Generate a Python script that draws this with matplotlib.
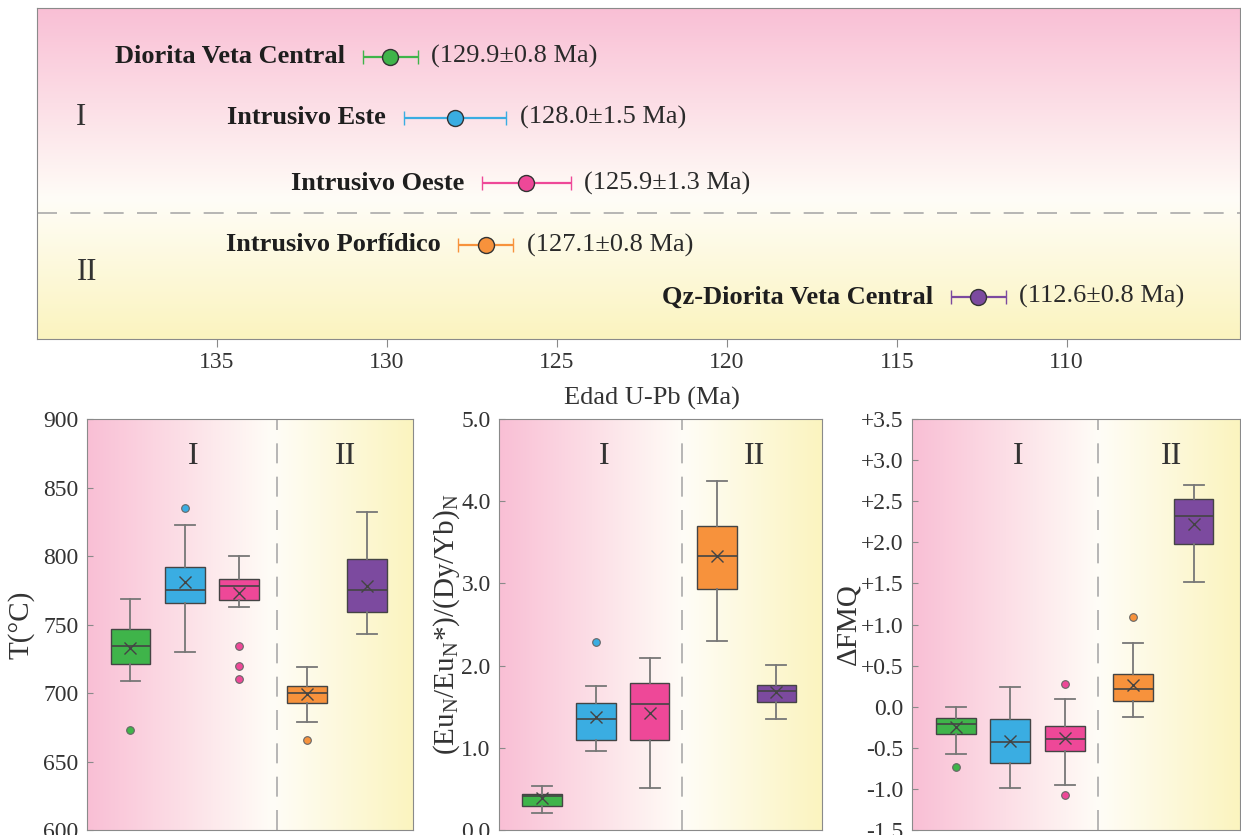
import matplotlib.pyplot as plt
import numpy as np
from matplotlib.colors import LinearSegmentedColormap
from matplotlib.ticker import FixedLocator, FuncFormatter

plt.rcParams['font.family'] = ['Liberation Serif', 'DejaVu Serif']
plt.rcParams['mathtext.fontset'] = 'custom'
plt.rcParams['mathtext.rm'] = 'Liberation Serif'

# U-Pb ages (Ma) and 2-sigma errors
units = ['Diorita Veta Central', 'Intrusivo Este', 'Intrusivo Oeste',
         'Intrusivo Porfídico', 'Qz-Diorita Veta Central']
ages = [129.9, 128.0, 125.9, 127.1, 112.6]
errors = [0.8, 1.5, 1.3, 0.8, 0.8]
colors = ['#3fb44a', '#3aade2', '#ee4898', '#f7923c', '#7c4a9f']

# box-plot statistics per unit: whislo, q1, med, mean, q3, whishi, outliers
temp_stats = [
    (709, 721, 734, 733, 747, 769, [673]),
    (730, 766, 775, 781, 792, 823, [835]),
    (763, 768, 778, 773, 783, 800, [734, 720, 710]),
    (679, 693, 700, 699, 705, 719, [666]),
    (743, 759, 775, 778, 798, 832, []),
]
eu_stats = [
    (0.21, 0.29, 0.41, 0.39, 0.44, 0.54, []),
    (0.96, 1.09, 1.345, 1.38, 1.54, 1.75, [2.29]),
    (0.51, 1.10, 1.53, 1.42, 1.785, 2.09, []),
    (2.30, 2.93, 3.33, 3.33, 3.70, 4.25, []),
    (1.35, 1.56, 1.69, 1.68, 1.76, 2.01, []),
]
fmq_stats = [
    (-0.57, -0.33, -0.21, -0.25, -0.14, 0.0, [-0.73]),
    (-0.99, -0.69, -0.43, -0.42, -0.15, 0.24, []),
    (-0.95, -0.54, -0.39, -0.38, -0.24, 0.09, [0.28, -1.07]),
    (-0.12, 0.07, 0.22, 0.26, 0.40, 0.78, [1.09]),
    (1.52, 1.98, 2.32, 2.23, 2.53, 2.70, []),
]

pink = '#f9bfd5'
white = '#fffdf7'
yellow = '#fbf4bf'
spine_c = '#8a8a8a'
text_c = '#2a2a2a'

fig = plt.figure(figsize=(12.41, 8.35), dpi=100)

# ---- top panel: ages ----
ax = fig.add_axes([0.0298, 0.594, 0.9694, 0.3966])
vgrad = LinearSegmentedColormap.from_list('v', [(0, yellow), (0.42, white), (1, pink)])
ax.imshow(np.linspace(0, 1, 256).reshape(-1, 1), cmap=vgrad, origin='lower',
          extent=[0, 1, 0, 1], transform=ax.transAxes, aspect='auto', zorder=0)
ax.set_xlim(140.3, 104.9)
ax.set_ylim(0, 1)
row_y = [0.852, 0.668, 0.471, 0.284, 0.127]
for name, age, err, c, y in zip(units, ages, errors, colors, row_y):
    ax.errorbar(age, y, xerr=err, fmt='o', color=c, ecolor=c, elinewidth=1.6,
                capsize=5, capthick=1.6, markersize=11.5, markerfacecolor=c,
                markeredgecolor='#333333', markeredgewidth=1.0, zorder=3)
    ax.annotate(name, (age + err, y), xytext=(-13, 0), textcoords='offset points',
                ha='right', va='center', fontsize=19, fontweight='bold', color='#1e1e1e')
    ax.annotate(f'({age:.1f}±{err:.1f} Ma)', (age - err, y), xytext=(10, 0),
                textcoords='offset points', ha='left', va='center', fontsize=19,
                color=text_c)
ax.axhline(0.381, color='#aaaaaa', lw=1.2, dashes=(12, 8), zorder=1)
ax.text(0.037, 0.668, 'I', transform=ax.transAxes, ha='center', va='center', fontsize=22,
        color='#333333')
ax.text(0.042, 0.2, 'II', transform=ax.transAxes, ha='center', va='center', fontsize=22,
        color='#333333')
ax.set_xticks([135, 130, 125, 120, 115, 110])
ax.set_yticks([])
ax.tick_params(axis='x', direction='out', length=6, color=spine_c, labelsize=17,
               labelcolor='#333333', pad=3)
ax.set_xlabel('Edad U-Pb (Ma)', fontsize=19, color='#333333')
ax.xaxis.set_label_coords(0.511, -0.145)
for s in ax.spines.values():
    s.set_color(spine_c)

# ---- bottom panels: box plots ----
hgrad = LinearSegmentedColormap.from_list('h', [(0, pink), (0.57, white), (1, yellow)])
positions = [1, 2, 3, 4.25, 5.35]


def box_panel(rect, stats, ylim, ticks, fmt, ylabel, divider, label_x):
    bx = fig.add_axes(rect)
    bx.imshow(np.linspace(0, 1, 256).reshape(1, -1), cmap=hgrad, extent=[0, 1, 0, 1],
              transform=bx.transAxes, aspect='auto', zorder=0)
    bxp_stats = [dict(whislo=s[0], q1=s[1], med=s[2], mean=s[3], q3=s[4], whishi=s[5],
                      fliers=s[6]) for s in stats]
    art = bx.bxp(bxp_stats, positions=positions, widths=0.73, patch_artist=True,
                 showmeans=True, showfliers=True,
                 boxprops=dict(edgecolor='#444444', linewidth=1.0),
                 medianprops=dict(color='#444444', linewidth=1.2),
                 whiskerprops=dict(color='#777777', linewidth=1.3),
                 capprops=dict(color='#777777', linewidth=1.3),
                 meanprops=dict(marker='x', markeredgecolor='#444444', markersize=8,
                                markeredgewidth=1.0),
                 flierprops=dict(marker='o', markersize=5.5, markeredgewidth=0.8))
    for patch, c in zip(art['boxes'], colors):
        patch.set_facecolor(c)
        patch.set_zorder(2)
    for fl, c in zip(art['fliers'], colors):
        fl.set_markerfacecolor(c)
        fl.set_markeredgecolor('#666666')
    bx.set_xlim(0.2, 6.2)
    bx.set_ylim(*ylim)
    bx.axvline(divider, color='#aaaaaa', lw=1.2, dashes=(12, 8), zorder=1)
    bx.text(2.15, 0.91, 'I', transform=bx.get_xaxis_transform(), ha='center', va='center',
            fontsize=23, color='#333333')
    bx.text(4.95, 0.91, 'II', transform=bx.get_xaxis_transform(), ha='center', va='center',
            fontsize=23, color='#333333')
    bx.set_xticks([])
    bx.yaxis.set_major_locator(FixedLocator(ticks))
    bx.yaxis.set_major_formatter(FuncFormatter(fmt))
    bx.tick_params(axis='y', direction='in', length=4, color=spine_c, labelsize=17,
                   labelcolor='#333333', pad=6)
    bx.set_ylabel(ylabel, fontsize=21, color='#333333')
    bx.yaxis.set_label_coords(label_x, 0.5)
    for s in bx.spines.values():
        s.set_color(spine_c)
    return bx


box_panel([0.0701, 0.006, 0.2627, 0.492], temp_stats, (600, 900),
          [600, 650, 700, 750, 800, 850, 900], lambda v, p: f'{v:.0f}', 'T(°C)', 3.7,
          -0.16)
box_panel([0.4021, 0.006, 0.2603, 0.492], eu_stats, (0, 5),
          [0, 1, 2, 3, 4, 5], lambda v, p: f'{v:.1f}',
          r'(Eu$_\mathrm{N}$/Eu$_\mathrm{N}$*)/(Dy/Yb)$_\mathrm{N}$', 3.6, -0.115)


def fmq_fmt(v, p):
    if abs(v) < 1e-9:
        return '0.0'
    return f'+{v:.1f}' if v > 0 else f'-{abs(v):.1f}'


box_panel([0.7349, 0.006, 0.2643, 0.492], fmq_stats, (-1.5, 3.5),
          list(np.arange(-1.5, 3.51, 0.5)), fmq_fmt, 'ΔFMQ', 3.6, -0.155)

fig.savefig('out.png', dpi=100)
